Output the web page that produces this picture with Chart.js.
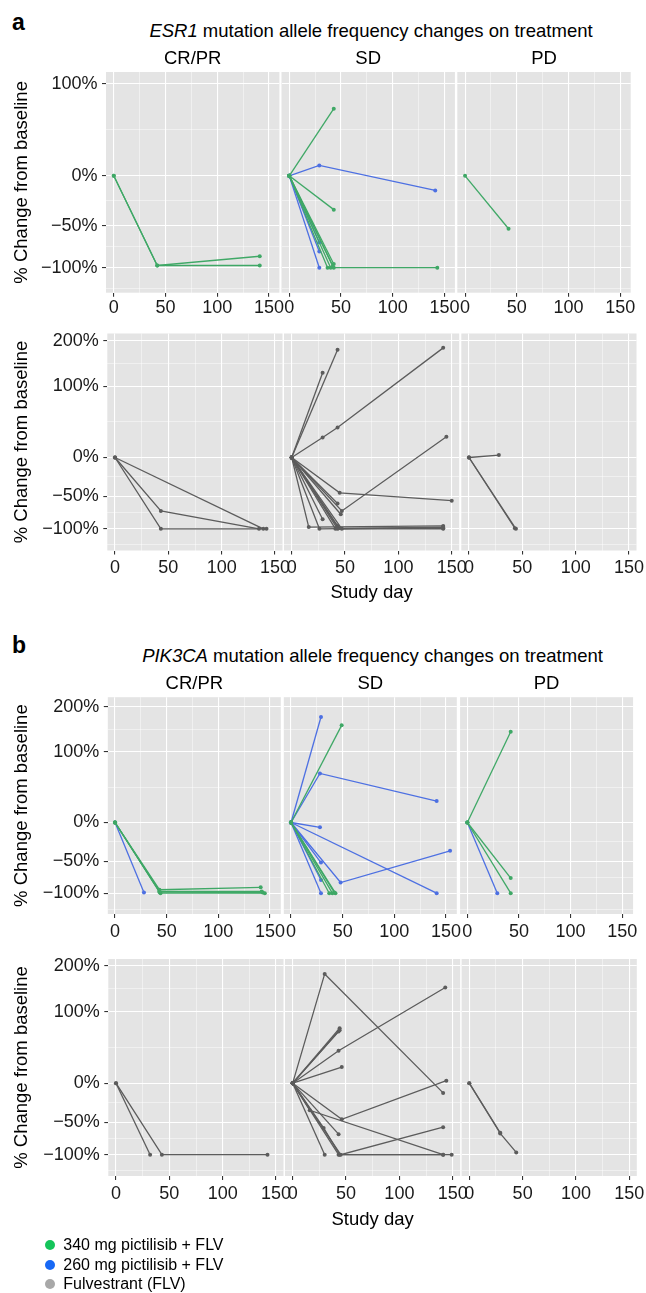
<!DOCTYPE html>
<html>
<head>
<meta charset="utf-8">
<title>Mutation allele frequency changes on treatment</title>
<script src="https://cdn.jsdelivr.net/npm/chart.js@4.4.1/dist/chart.umd.min.js"></script>
<style>
  body { margin: 0; background: #fff; }
  #fig { position: relative; width: 646px; height: 1293px; overflow: hidden;
         font-family: "Liberation Sans", Arial, sans-serif; color: #000; }
  #fig canvas { position: absolute; }
  .t { position: absolute; white-space: nowrap; line-height: 1; }
  .ttl { position: absolute; width: 600px; text-align: center; white-space: nowrap; line-height: 1; font-size: 18.5px; }
  .dot { position: absolute; width: 10px; height: 10px; border-radius: 50%; }
</style>
</head>
<body>
<div id="fig">
  <div class="t" style="left:12px;top:11px;font-size:23px;font-weight:bold">a</div>
  <div class="ttl" style="left:71px;top:21.6px"><i>ESR1</i> mutation allele frequency changes on treatment</div>
  <div class="t" style="left:12px;top:633.5px;font-size:23px;font-weight:bold">b</div>
  <div class="ttl" style="left:72.5px;top:646.6px"><i>PIK3CA</i> mutation allele frequency changes on treatment</div>
</div>
<script>
const groups = ['CR/PR', 'SD', 'PD'];
const dayTicks = [0, 50, 100, 150];
const dayMinor = [25, 75, 125];
const pctTicksEsr1 = [-100, -50, 0, 100];
const pctTicks = [-100, -50, 0, 100, 200];

const arms = ['340 mg pictilisib + FLV', '260 mg pictilisib + FLV', 'Fulvestrant (FLV)'];
const legendColors = ['#14c45a', '#1768f5', '#a8a8a8'];
const lineColors = ['#3fa866', '#4d70e2', '#5c5c5c'];

// each patient: [study day, % change from baseline]; grouped as CR/PR, SD, PD
const esr1Arm340 = [
  [[[0, 0], [42, -97], [141, -85]], [[0, 0], [42, -97], [141, -97]]],
  [[[0, 0], [43, 69]], [[0, 0], [43, -33]], [[0, 0], [37, -100]], [[0, 0], [40, -100]],
   [[0, 0], [42, -98]], [[0, 0], [43, -95]], [[0, 0], [43, -100], [143, -100]]],
  [[[0, 0], [42, -53]]]
];
const esr1Arm260 = [
  [],
  [[[0, 0], [29, 10], [141, -14]], [[0, 0], [29, -68]], [[0, 0], [29, -79]], [[0, 0], [29, -100]]],
  []
];
const esr1Flv = [
  [[[0, 0], [43, -71], [135, -100]], [[0, 0], [43, -100], [142, -100]], [[0, 0], [139, -100]]],
  [[[0, 0], [43, 176]], [[0, 0], [29, 125]], [[0, 0], [29, 25], [43, 38], [142, 181]],
   [[0, 0], [47, -71], [145, 26]], [[0, 0], [45, -45], [150, -56]], [[0, 0], [43, -60]],
   [[0, 0], [46, -76]], [[0, 0], [29, -84]], [[0, 0], [16, -97], [142, -95]],
   [[0, 0], [26, -100], [142, -97]], [[0, 0], [43, -100], [142, -98]], [[0, 0], [44, -99], [142, -100]],
   [[0, 0], [47, -100], [142, -99]], [[0, 0], [43, -95]], [[0, 0], [41, -100]]],
  [[[0, 0], [28, 3]], [[0, 0], [44, -100]], [[0, 0], [43, -99]]]
];
const pik3caArm340 = [
  [[[0, 0], [43, -94], [141, -90]], [[0, 0], [43, -97], [142, -97]], [[0, 0], [44, -100], [145, -100]],
   [[0, 0], [43, -98], [143, -99]]],
  [[[0, 0], [49, 153]], [[0, 0], [37, -100]], [[0, 0], [40, -100]], [[0, 0], [42, -99]], [[0, 0], [43, -100]]],
  [[[0, 0], [42, 139]], [[0, 0], [42, -75]], [[0, 0], [42, -100]]]
];
const pik3caArm260 = [
  [[[0, 0], [28, -99]]],
  [[[0, 0], [29, 173]], [[0, 0], [28, 65], [141, 27]], [[0, 0], [28, -6]], [[0, 0], [29, -52]],
   [[0, 0], [29, -78]], [[0, 0], [29, -100]], [[0, 0], [48, -82], [154, -36]], [[0, 0], [141, -100]]],
  [[[0, 0], [29, -100]]]
];
const pik3caFlv = [
  [[[0, 0], [32, -100]], [[0, 0], [43, -100], [142, -100]]],
  [[[0, 0], [30, 179], [141, -12]], [[0, 0], [43, 41], [143, 147]], [[0, 0], [44, 73]], [[0, 0], [44, 70]],
   [[0, 0], [43, 68]], [[0, 0], [46, 20]], [[0, 0], [46, -46], [144, 3]], [[0, 0], [16, -34], [141, -100]],
   [[0, 0], [29, -58], [44, -100], [149, -100]], [[0, 0], [43, -67]], [[0, 0], [30, -100]],
   [[0, 0], [45, -100], [141, -57]], [[0, 0], [43, -100], [141, -100]]],
  [[[0, 0], [29, -65]], [[0, 0], [29, -66], [44, -96]]]
];

// panel geometry of the four facet rows
const rows = [
  { series: [[0, esr1Arm340], [1, esr1Arm260]], yTicks: pctTicksEsr1, strips: true,
    top: 72, bottom: 292.7, lefts: [106, 281.5, 457.3], width: 173.4,
    x: [-7.5, 160], y: [-137.1, 116.9], stripGap: 1.6, axisH: 30, tickPad: 0.8, xTitle: false },
  { series: [[2, esr1Flv]], yTicks: pctTicks, strips: false,
    top: 333.5, bottom: 550.5, lefts: [107.3, 284, 461.3], width: 175.2,
    x: [-7.2, 157], y: [-142, 220.8], stripGap: 1.6, axisH: 54, tickPad: 2.8, xTitle: true },
  { series: [[0, pik3caArm340], [1, pik3caArm260]], yTicks: pctTicks, strips: true,
    top: 697.2, bottom: 914, lefts: [107.8, 283.8, 460.1], width: 173,
    x: [-7, 160.5], y: [-140.5, 228], stripGap: 2.3, axisH: 30, tickPad: 2.8, xTitle: false },
  { series: [[2, pik3caFlv]], yTicks: pctTicks, strips: false,
    top: 959, bottom: 1176, lefts: [108.3, 285, 461.6], width: 175.2,
    x: [-7.2, 157], y: [-141, 220], stripGap: 1.6, axisH: 55, tickPad: 3, xTitle: true }
];

const fig = document.getElementById('fig');
Chart.defaults.font.family = '"Liberation Sans", Arial, sans-serif';

// pseudo-log (asinh) axis, as in the original ggplot figure
const tf = v => Math.asinh(v / 100);
class AsinhScale extends Chart.LinearScale {
  static id = 'asinh';
  static defaults = {};
  getPixelForValue(v) {
    if (v === null || v === undefined) return NaN;
    const a = tf(this.min), b = tf(this.max);
    return this.getPixelForDecimal((tf(v) - a) / (b - a));
  }
  getValueForPixel(p) {
    const a = tf(this.min), b = tf(this.max);
    return Math.sinh(a + this.getDecimalForPixel(p) * (b - a)) * 100;
  }
}
Chart.register(AsinhScale);

const panelBg = {
  id: 'panelBg',
  beforeDraw(chart) {
    const { ctx, chartArea: a } = chart;
    ctx.save();
    ctx.fillStyle = '#e4e4e4';
    ctx.fillRect(a.left, a.top, a.width, a.height);
    ctx.restore();
  }
};

function pctLabel(v) {
  return (v < 0 ? '\u2212' + (-v) : String(v)) + '%';
}

// minor breaks halfway between majors in transformed space
function yMinor(major, lo, hi) {
  const t = major.map(tf), out = [];
  for (let k = 0; k < t.length - 1; k++) out.push((t[k] + t[k + 1]) / 2);
  out.push(t[0] - (t[1] - t[0]) / 2);
  out.push(t[t.length - 1] + (t[t.length - 1] - t[t.length - 2]) / 2);
  return out.map(x => Math.sinh(x) * 100).filter(v => v > lo && v < hi);
}

function tickList(major, minor) {
  return major.map(v => ({ value: v }))
    .concat(minor.map(v => ({ value: v, minor: true })))
    .sort((p, q) => p.value - q.value);
}

const gridColor = c => (c.tick && c.tick.minor) ? 'rgba(255,255,255,0.75)' : '#ffffff';
const gridWidth = c => (c.tick && c.tick.minor) ? 0.6 : 1.1;
const tickColor = c => (c.tick && c.tick.minor) ? 'rgba(0,0,0,0)' : '#333333';

function drawPanel(row, i) {
  const first = i === 0;
  const pl = row.lefts[i], pw = row.width, ph = row.bottom - row.top;
  const stripH = 18.5 * 1.2 + row.stripGap;
  const axisW = first ? pl : 0;
  const cLeft = first ? 0 : Math.floor(pl) - 24;
  const padL = first ? 0 : pl - cLeft;
  const cTop = Math.floor(row.top - stripH) - 2;
  const padT = row.top - stripH - cTop;
  const cW = Math.ceil(padL + axisW + pw + 24);
  const padR = cW - (padL + axisW + pw);
  const cH = Math.ceil(padT + stripH + ph + row.axisH + 2);
  const padB = cH - (padT + stripH + ph + row.axisH);

  const cv = document.createElement('canvas');
  cv.width = cW; cv.height = cH;
  cv.style.left = cLeft + 'px'; cv.style.top = cTop + 'px';
  cv.style.width = cW + 'px'; cv.style.height = cH + 'px';
  fig.appendChild(cv);

  const datasets = [];
  row.series.forEach(([arm, data]) => {
    data[i].forEach(traj => {
      datasets.push({
        data: traj.map(([d, v]) => ({ x: d, y: v })),
        showLine: true,
        borderColor: lineColors[arm],
        backgroundColor: lineColors[arm],
        borderWidth: 1.3,
        pointRadius: 2,
        pointBorderWidth: 0,
        pointHoverRadius: 2
      });
    });
  });

  new Chart(cv, {
    type: 'scatter',
    data: { datasets },
    plugins: [panelBg],
    options: {
      responsive: false,
      animation: false,
      events: [],
      layout: { padding: { left: padL, right: padR, top: padT, bottom: padB } },
      plugins: {
        legend: { display: false },
        tooltip: { enabled: false },
        title: {
          display: true, text: row.strips ? groups[i] : '', fullSize: false, color: '#000',
          font: { size: 18.5, weight: 'normal' },
          padding: { top: 0, bottom: row.stripGap }
        }
      },
      scales: {
        x: {
          type: 'linear', bounds: 'data', min: row.x[0], max: row.x[1],
          afterFit: s => { s.height = row.axisH; },
          afterBuildTicks: s => { s.ticks = tickList(dayTicks, dayMinor); },
          ticks: {
            autoSkip: false, maxRotation: 0, padding: row.tickPad, color: '#1a1a1a', font: { size: 18 },
            callback: (v, k, t) => t[k].minor ? '' : String(v)
          },
          grid: { color: gridColor, lineWidth: gridWidth, tickColor: tickColor, tickLength: 4 },
          border: { display: false },
          title: {
            display: row.xTitle && i === 1, text: 'Study day', color: '#000',
            font: { size: 18.5 }, padding: { top: 0, bottom: 0 }
          }
        },
        y: {
          type: 'asinh', bounds: 'data', min: row.y[0], max: row.y[1],
          afterFit: s => { s.width = axisW; },
          afterBuildTicks: s => {
            s.ticks = tickList(row.yTicks, yMinor(row.yTicks, row.y[0], row.y[1]));
          },
          ticks: {
            display: first, autoSkip: false, padding: 4.5, color: '#1a1a1a', font: { size: 18 },
            callback: (v, k, t) => t[k].minor ? '' : pctLabel(v)
          },
          grid: { color: gridColor, lineWidth: gridWidth, tickColor: tickColor, tickLength: 4, drawTicks: first },
          border: { display: false },
          title: {
            display: first, text: '% Change from baseline', color: '#000',
            font: { size: 18.5 }, padding: { top: 10.6, bottom: 0 }
          }
        }
      }
    }
  });
}

rows.forEach(row => { for (let i = 0; i < 3; i++) drawPanel(row, i); });

// figure legend
const legendTop = [1245, 1264.5, 1284];
arms.forEach((name, k) => {
  const d = document.createElement('div');
  d.className = 'dot';
  d.style.left = '45px'; d.style.top = (legendTop[k] - 5) + 'px';
  d.style.background = legendColors[k];
  fig.appendChild(d);
  const t = document.createElement('div');
  t.className = 't';
  t.style.left = '63.3px'; t.style.top = (legendTop[k] - 7.8) + 'px';
  t.style.fontSize = '16px';
  t.textContent = name;
  fig.appendChild(t);
});
</script>
</body>
</html>
